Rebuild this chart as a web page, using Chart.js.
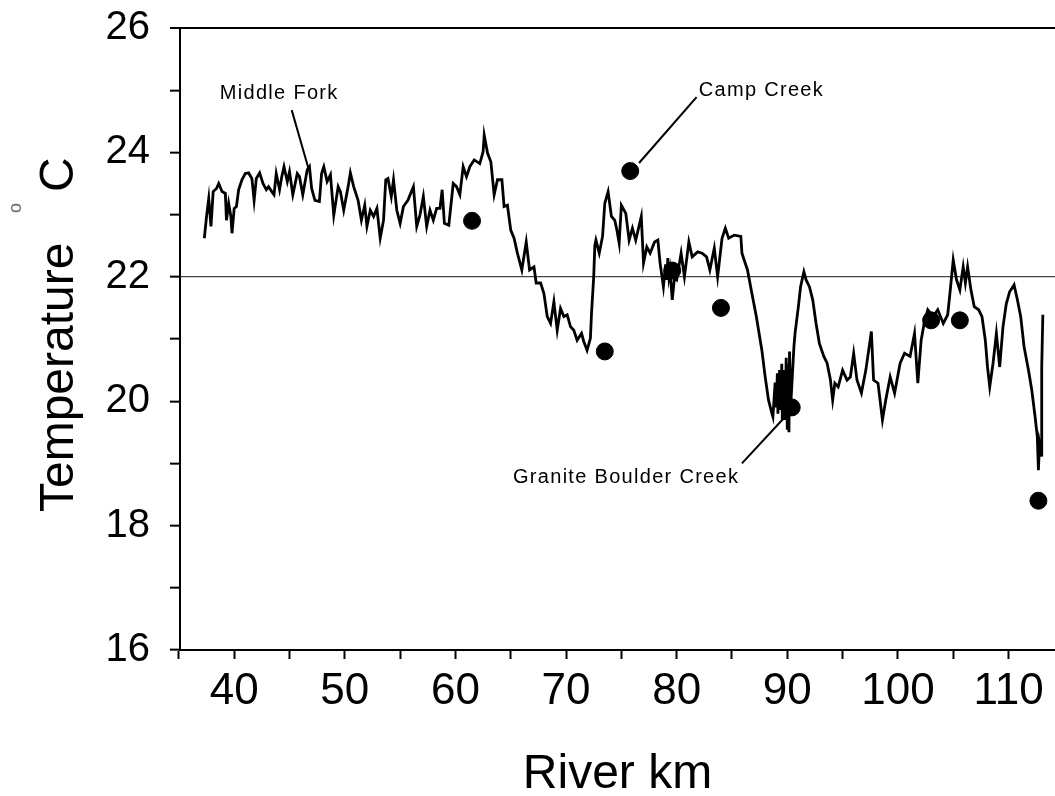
<!DOCTYPE html>
<html lang="en">
<head>
    <meta charset="UTF-8">
    <title>Middle Fork water temperature by river km</title>
    <script src="https://cdn.jsdelivr.net/npm/chart.js"></script>
    <style>
        body { margin: 0; background: #fff; }
        #chart { display: block; }
    </style>
</head>
<body>
    <canvas id="chart" width="1055" height="796"></canvas>

    <script>
        // Longitudinal temperature trace along the river (km, deg C)
        const riverKm = [
            37.3, 37.5, 37.7, 37.9, 38.1, 38.4, 38.6, 38.9, 39.2, 39.3, 39.5, 39.7, 39.8, 40.0, 40.2, 40.4, 40.7, 41.0, 41.3, 41.6,
            41.8, 42.0, 42.3, 42.6, 42.9, 43.1, 43.4, 43.6, 43.8, 44.1, 44.3, 44.5, 44.8, 45.0, 45.3, 45.7, 45.9, 46.2, 46.6, 46.8,
            47.0, 47.3, 47.7, 47.9, 48.1, 48.4, 48.7, 49.0, 49.4, 49.6, 49.9, 50.3, 50.5, 50.8, 51.2, 51.5, 51.8, 52.0, 52.3, 52.6,
            52.9, 53.2, 53.5, 53.7, 53.9, 54.2, 54.4, 54.7, 55.0, 55.3, 55.7, 56.2, 56.5, 56.8, 57.1, 57.4, 57.7, 58.0, 58.3, 58.6,
            58.8, 59.0, 59.4, 59.8, 60.1, 60.4, 60.7, 61.0, 61.3, 61.7, 62.2, 62.5, 62.6, 62.9, 63.2, 63.5, 63.8, 64.2, 64.4, 64.7,
            65.0, 65.3, 65.6, 66.0, 66.4, 66.7, 67.1, 67.3, 67.7, 68.0, 68.3, 68.6, 68.9, 69.2, 69.5, 69.8, 70.1, 70.4, 70.7, 71.0,
            71.4, 71.6, 71.9, 72.2, 72.3, 72.5, 72.6, 72.7, 73.0, 73.3, 73.5, 73.8, 74.1, 74.4, 74.6, 74.8, 75.0, 75.4, 75.7, 76.0,
            76.3, 76.8, 77.0, 77.3, 77.6, 78.0, 78.3, 78.5, 78.8, 79.0, 79.1, 79.2, 79.3, 79.4, 79.6, 79.8, 80.0, 80.4, 80.7, 81.1,
            81.4, 81.9, 82.3, 82.7, 83.0, 83.4, 83.7, 84.1, 84.4, 84.7, 85.2, 85.8, 85.9, 86.4, 86.8, 87.2, 87.7, 88.0, 88.3, 88.6,
            88.7, 88.9, 89.0, 89.1, 89.15, 89.3, 89.4, 89.5, 89.55, 89.7, 89.8, 89.9, 90.0, 90.1, 90.15, 90.2, 90.3, 90.6, 90.7, 91.0,
            91.2, 91.5, 91.7, 92.0, 92.3, 92.6, 92.9, 93.3, 93.6, 93.9, 94.1, 94.3, 94.6, 95.0, 95.4, 95.7, 96.0, 96.3, 96.7, 97.1,
            97.6, 97.8, 98.2, 98.6, 98.9, 99.3, 99.7, 100.2, 100.6, 101.1, 101.5, 101.8, 102.1, 102.4, 102.7, 103.2, 103.6, 104.1, 104.5, 104.7,
            105.0, 105.3, 105.6, 105.9, 106.1, 106.3, 106.6, 106.9, 107.3, 107.6, 107.9, 108.1, 108.3, 108.6, 108.9, 109.2, 109.5, 109.8, 110.1, 110.5,
            110.8, 111.1, 111.4, 111.8, 112.1, 112.4, 112.6, 112.7, 112.8, 113.0, 113.0, 113.1
        ];
        const tempC = [
            22.62, 22.97, 23.26, 22.81, 23.37, 23.42, 23.50, 23.37, 23.34, 22.91, 23.18, 22.97, 22.70, 23.10, 23.13, 23.40, 23.56, 23.66, 23.67, 23.58,
            23.23, 23.58, 23.67, 23.50, 23.40, 23.45, 23.37, 23.32, 23.66, 23.40, 23.61, 23.77, 23.53, 23.69, 23.32, 23.66, 23.61, 23.32, 23.72, 23.77,
            23.42, 23.23, 23.21, 23.66, 23.77, 23.53, 23.64, 22.99, 23.45, 23.37, 23.07, 23.45, 23.67, 23.45, 23.23, 22.91, 23.15, 22.81, 23.07, 22.97,
            23.10, 22.62, 22.91, 23.56, 23.58, 23.29, 23.56, 23.07, 22.86, 23.13, 23.23, 23.45, 22.81, 23.00, 23.29, 22.81, 23.07, 22.91, 23.10, 23.10,
            23.40, 22.86, 22.83, 23.50, 23.45, 23.32, 23.77, 23.61, 23.77, 23.88, 23.82, 24.01, 24.28, 23.99, 23.85, 23.32, 23.56, 23.56, 23.13, 23.15,
            22.75, 22.62, 22.38, 22.11, 22.56, 22.11, 22.16, 21.90, 21.90, 21.73, 21.36, 21.25, 21.60, 21.14, 21.49, 21.36, 21.39, 21.20, 21.14, 20.98,
            21.09, 20.96, 20.82, 21.01, 21.41, 22.00, 22.50, 22.59, 22.38, 22.65, 23.18, 23.37, 22.97, 22.91, 22.75, 22.54, 23.15, 23.02, 22.59, 22.78,
            22.59, 22.97, 22.22, 22.48, 22.38, 22.56, 22.59, 22.22, 21.84, 22.20, 21.95, 22.30, 22.00, 22.11, 21.63, 21.98, 21.95, 22.38, 22.00, 22.56,
            22.32, 22.40, 22.38, 22.32, 22.11, 22.46, 22.00, 22.62, 22.78, 22.62, 22.67, 22.65, 22.38, 22.11, 21.73, 21.36, 20.82, 20.39, 20.02, 19.81,
            19.75, 20.30, 19.90, 20.45, 19.80, 20.50, 19.86, 20.60, 19.70, 20.50, 19.70, 20.70, 19.54, 20.60, 19.50, 20.80, 19.90, 20.88, 21.09, 21.52,
            21.84, 22.08, 21.95, 21.84, 21.63, 21.25, 20.93, 20.72, 20.61, 20.34, 20.02, 20.29, 20.23, 20.50, 20.34, 20.39, 20.77, 20.34, 20.13, 20.50,
            21.12, 20.34, 20.29, 19.70, 20.02, 20.39, 20.13, 20.61, 20.77, 20.72, 21.09, 20.29, 20.98, 21.28, 21.47, 21.36, 21.47, 21.25, 21.39, 21.73,
            22.27, 21.95, 21.79, 22.16, 21.90, 22.16, 21.79, 21.52, 21.47, 21.36, 20.98, 20.55, 20.23, 20.61, 21.09, 20.55, 21.20, 21.57, 21.76, 21.87,
            21.63, 21.36, 20.88, 20.50, 20.18, 19.75, 19.43, 18.89, 19.32, 19.11, 20.55, 21.39
        ];

        // Spot measurements (filled circles)
        const siteKm = [61.5, 73.5, 75.8, 79.6, 84.0, 90.4, 103.0, 105.6, 112.7];
        const siteTemp = [22.9, 20.8, 23.7, 22.1, 21.5, 19.9, 21.3, 21.3, 18.4];

        // Axis ticks
        const xTicks = [35, 40, 45, 50, 55, 60, 65, 70, 75, 80, 85, 90, 95, 100, 105, 110];
        const yTicks = [16, 17, 18, 19, 20, 21, 22, 23, 24, 25, 26];

        // Labels with leader lines, in data units
        const notes = [
            { text: 'Middle Fork', tx: 38.7, ty: 24.95, from: [45.2, 24.68], to: [46.7, 23.75] },
            { text: 'Camp Creek', tx: 82.0, ty: 25.0, from: [81.8, 24.89], to: [76.6, 23.83] },
            { text: 'Granite Boulder Creek', tx: 65.2, ty: 18.77, from: [85.9, 19.0], to: [89.7, 19.73] }
        ];

        const FONT = "'Liberation Sans', Arial, sans-serif";

        const notesPlugin = {
            id: 'notes',
            afterDatasetsDraw(chart) {
                const { ctx, scales: { x, y } } = chart;
                ctx.save();
                ctx.fillStyle = '#000';
                ctx.strokeStyle = '#000';
                ctx.lineWidth = 2;
                ctx.font = '20px ' + FONT;
                ctx.letterSpacing = '1.3px';
                ctx.textBaseline = 'middle';
                notes.forEach(n => {
                    ctx.fillText(n.text, x.getPixelForValue(n.tx), y.getPixelForValue(n.ty));
                    ctx.beginPath();
                    ctx.moveTo(x.getPixelForValue(n.from[0]), y.getPixelForValue(n.from[1]));
                    ctx.lineTo(x.getPixelForValue(n.to[0]), y.getPixelForValue(n.to[1]));
                    ctx.stroke();
                });
                ctx.restore();
            }
        };

        // y title with a raised degree mark
        const yTitlePlugin = {
            id: 'yTitle',
            afterDraw(chart) {
                const ctx = chart.ctx;
                ctx.save();
                ctx.translate(73, 512);
                ctx.rotate(-Math.PI / 2);
                ctx.fillStyle = '#000';
                ctx.textBaseline = 'alphabetic';
                ctx.font = '48px ' + FONT;
                ctx.fillText('Temperature', 0, 0);
                ctx.fillText('C', 320, 0);
                ctx.fillStyle = '#666';
                ctx.font = '18px ' + FONT;
                ctx.fillText('o', 299, -52);
                ctx.restore();
            }
        };

        // keep the plot box fixed: no extra room for overhanging tick labels
        function noPadding(s) {
            s.paddingLeft = 0;
            s.paddingRight = 0;
            s.paddingTop = 0;
            s.paddingBottom = 0;
        }

        const ctx = document.getElementById('chart').getContext('2d');
        const chart = new Chart(ctx, {
            type: 'scatter',
            data: {
                datasets: [
                    {
                        label: 'Middle Fork',
                        data: riverKm.map((k, i) => ({ x: k, y: tempC[i] })),
                        showLine: true,
                        borderColor: '#000',
                        borderWidth: 2.8,
                        pointRadius: 0,
                        tension: 0
                    },
                    {
                        label: 'Sites',
                        data: siteKm.map((k, i) => ({ x: k, y: siteTemp[i] })),
                        backgroundColor: '#000',
                        borderColor: '#000',
                        pointRadius: 8.5,
                        showLine: false
                    }
                ]
            },
            options: {
                responsive: false,
                animation: false,
                layout: { autoPadding: false, padding: { top: 28, right: 0, left: 0, bottom: 0 } },
                plugins: {
                    legend: { display: false },
                    tooltip: { enabled: false }
                },
                scales: {
                    x: {
                        type: 'linear',
                        min: 35.1,
                        max: 114.2,
                        afterBuildTicks: s => { s.ticks = xTicks.map(v => ({ value: v })); },
                        afterFit: s => { s.height = 146; noPadding(s); },
                        border: { display: true, color: '#000', width: 2 },
                        grid: { drawOnChartArea: false, tickLength: 9, tickWidth: 2, tickColor: '#000' },
                        ticks: {
                            color: '#000',
                            padding: 6,
                            maxRotation: 0,
                            autoSkip: false,
                            font: { family: FONT, size: 44 },
                            callback: v => (v % 10 === 0 ? v : '')
                        },
                        title: {
                            display: true,
                            text: 'River km',
                            color: '#000',
                            font: { family: FONT, size: 48, lineHeight: 0.9 },
                            padding: 0
                        }
                    },
                    y: {
                        min: 16,
                        max: 26,
                        afterBuildTicks: s => { s.ticks = yTicks.map(v => ({ value: v })); },
                        afterFit: s => { s.width = 180; noPadding(s); },
                        border: { display: true, color: '#000', width: 2 },
                        grid: {
                            drawOnChartArea: true,
                            color: c => (c.tick && c.tick.value === 22 ? '#444' : c.tick && c.tick.value === 26 ? '#000' : 'rgba(0,0,0,0)'),
                            lineWidth: c => (c.tick && c.tick.value === 26 ? 2 : 1.3),
                            tickLength: 10,
                            tickWidth: 2,
                            tickColor: '#000'
                        },
                        ticks: {
                            color: '#000',
                            padding: 20,
                            autoSkip: false,
                            font: { family: FONT, size: 40 },
                            callback: v => (v % 2 === 0 ? v : '')
                        }
                    }
                }
            },
            plugins: [notesPlugin, yTitlePlugin]
        });
    </script>
</body>
</html>
